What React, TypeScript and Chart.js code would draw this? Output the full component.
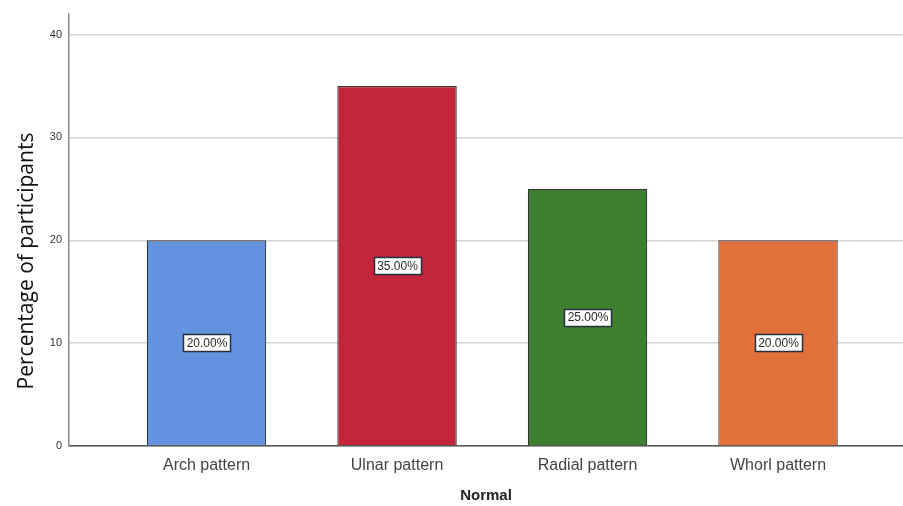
import React, { useEffect, useRef } from "react";
import { Chart, registerables } from "chart.js";

Chart.register(...registerables);

const categories = ["Arch pattern", "Ulnar pattern", "Radial pattern", "Whorl pattern"];
const values = [20, 35, 25, 20];
const valueLabels = ["20.00%", "35.00%", "25.00%", "20.00%"];
const barColors = ["#6392DF", "#C32539", "#3E7E30", "#E1703B"];
const yTicks = [0, 10, 20, 30, 40];
const yTitle = "Percentage of participants";
const xTitle = "Normal";

const labelPlugin = {
  id: "valueBoxes",
  afterDatasetsDraw(chart: any) {
    const ctx = chart.ctx;
    const meta = chart.getDatasetMeta(0);
    ctx.save();
    ctx.font = "12px 'Liberation Sans', Arial, sans-serif";
    ctx.textAlign = "center";
    ctx.textBaseline = "middle";
    meta.data.forEach((bar: any, i: number) => {
      const cx = bar.x;
      const cy = (bar.y + bar.base) / 2;
      const t = valueLabels[i];
      const w = Math.round(ctx.measureText(t).width + 6);
      const h = 17;
      const x0 = Math.round(cx - w / 2);
      const y0 = Math.round(cy - h / 2);
      ctx.fillStyle = "#ffffff";
      ctx.fillRect(x0, y0, w, h);
      ctx.strokeStyle = "#26303d";
      ctx.lineWidth = 1.5;
      ctx.strokeRect(x0 + 0.5, y0 + 0.5, w, h);
      ctx.fillStyle = "#2a2a2a";
      ctx.fillText(t, cx + 0.5, cy + 1);
    });
    ctx.restore();
  },
};

const titlePlugin = {
  id: "axisTitles",
  afterDraw(chart: any) {
    const ctx = chart.ctx;
    const area = chart.chartArea;
    ctx.save();
    ctx.fillStyle = "#111111";
    ctx.textAlign = "center";
    ctx.textBaseline = "middle";
    ctx.font = "21px 'Open Sans', sans-serif";
    ctx.translate(27, 261);
    ctx.rotate(-Math.PI / 2);
    ctx.fillText(yTitle, 0, 0);
    ctx.restore();
    ctx.save();
    ctx.fillStyle = "#222222";
    ctx.textAlign = "center";
    ctx.textBaseline = "middle";
    ctx.font = "bold 15px 'Liberation Sans', Arial, sans-serif";
    ctx.fillText(xTitle, (area.left + area.right) / 2, 496);
    ctx.restore();
  },
};

export default function App() {
  const ref = useRef<HTMLCanvasElement | null>(null);
  useEffect(() => {
    document.body.style.margin = "0";
    const canvas = ref.current!;
    const chart = new Chart(canvas, {
      type: "bar",
      data: {
        datasets: [
          {
            data: values.map((v, i) => ({ x: i, y: v })),
            backgroundColor: barColors,
            borderColor: "#333333",
            borderWidth: 1.2,
            barPercentage: 0.627,
            categoryPercentage: 1,
          },
        ],
      },
      plugins: [labelPlugin, titlePlugin],
      options: {
        animation: false,
        responsive: false,
        maintainAspectRatio: false,
        layout: { padding: { top: 14, left: 0, right: 0, bottom: 0 } },
        plugins: { legend: { display: false }, tooltip: { enabled: false } },
        scales: {
          x: {
            type: "linear",
            offset: false,
            min: -0.722,
            max: 3.656,
            grid: { display: false, drawTicks: false },
            border: { display: true, color: "#555555", width: 1.5 },
            afterBuildTicks: (scale: any) => {
              scale.ticks = categories.map((_, i) => ({ value: i }));
            },
            afterFit: (scale: any) => {
              scale.height = 60;
            },
            ticks: {
              autoSkip: false,
              maxRotation: 0,
              padding: 10,
              color: "#444444",
              font: { size: 16, family: "'Liberation Sans', Arial, sans-serif" },
              callback: (v: any) => categories[v as number] ?? "",
            },
          },
          y: {
            min: 0,
            max: 42,
            grid: { color: "#d4d4d4", lineWidth: 1.5, drawTicks: false },
            border: { display: true, color: "#8c8c8c", width: 1.5 },
            afterBuildTicks: (scale: any) => {
              scale.ticks = yTicks.map((v) => ({ value: v }));
            },
            afterFit: (scale: any) => {
              scale.width = 69;
            },
            ticks: {
              padding: 7,
              color: "#333333",
              font: { size: 11, family: "'Liberation Sans', Arial, sans-serif" },
            },
          },
        },
      },
    });
    return () => chart.destroy();
  }, []);
  return (
    <div style={{ position: "fixed", left: 0, top: 0, width: 903, height: 506, background: "#fff" }}>
      <canvas ref={ref} width={903} height={506} style={{ width: 903, height: 506 }} />
    </div>
  );
}
